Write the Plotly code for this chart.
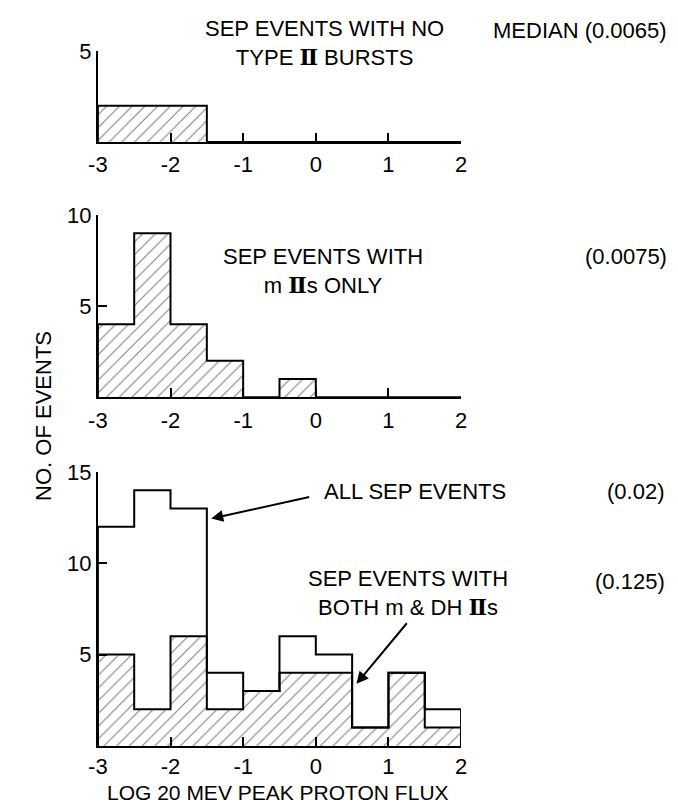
import plotly.graph_objects as go

# ---- data ----
bin_edges = [-3.0, -2.5, -2.0, -1.5, -1.0, -0.5, 0.0, 0.5, 1.0, 1.5, 2.0]
no_type2 = [2, 2, 2, 0, 0, 0, 0, 0, 0, 0]
m_only = [4, 9, 4, 2, 0, 1, 0, 0, 0, 0]
both_m_dh = [5, 2, 6, 2, 3, 4, 4, 1, 4, 1]
all_sep = [12, 14, 13, 4, 3, 6, 5, 1, 4, 2]
x_ticks = [-3, -2, -1, 0, 1, 2]
x_ticklabels = ["-3", "-2", "-1", "0", "1", "2"]
medians = ["MEDIAN (0.0065)", "(0.0075)", "(0.02)", "(0.125)"]

W, H = 678, 804
FONT = "Liberation Sans, Arial, sans-serif"
FS = 22


def py(p):
    return 1 - p / H


def px(p):
    return p / W


centers = [(bin_edges[i] + bin_edges[i + 1]) / 2 for i in range(len(bin_edges) - 1)]
width = bin_edges[1] - bin_edges[0]


def step_xy(counts):
    xs = [bin_edges[0]] + list(bin_edges)
    ys = [0] + list(counts) + [0]
    return xs, ys


fig = go.Figure()

panels = [
    ("x", "y", no_type2, None, 5, [5]),
    ("x2", "y2", m_only, None, 10, [5, 10]),
    ("x3", "y3", both_m_dh, all_sep, 15, [5, 10, 15]),
]

for xa, ya, hatched, outline, ymax, yt in panels:
    fig.add_trace(go.Bar(
        x=centers, y=hatched, width=width, xaxis=xa, yaxis=ya,
        marker=dict(color="white", line=dict(width=0),
                    pattern=dict(shape="/", fgcolor="black", bgcolor="white",
                                 size=9, solidity=0.12)),
        showlegend=False, hoverinfo="skip"))
    sx, sy = step_xy(hatched)
    fig.add_trace(go.Scatter(x=sx, y=sy, xaxis=xa, yaxis=ya, mode="lines",
                             line=dict(color="black", width=2, shape="hv"),
                             cliponaxis=False, showlegend=False, hoverinfo="skip"))
    if outline is not None:
        ox, oy = step_xy(outline)
        fig.add_trace(go.Scatter(x=ox, y=oy, xaxis=xa, yaxis=ya, mode="lines",
                                 line=dict(color="black", width=2, shape="hv"),
                                 cliponaxis=False, showlegend=False, hoverinfo="skip"))

x_dom = [px(90), px(462)]
y_doms = [[py(132), py(40)], [py(391), py(206)], [py(745), py(467)]]

layout = dict(
    width=W, height=H, margin=dict(l=0, r=0, t=0, b=0),
    plot_bgcolor="white", paper_bgcolor="white",
    font=dict(family=FONT, size=FS, color="black"),
    bargap=0,
)
names = [("xaxis", "yaxis", "y", "x"), ("xaxis2", "yaxis2", "y2", "x2"), ("xaxis3", "yaxis3", "y3", "x3")]
for i, ((xn, yn, yref, xref), (_, _, _, _, ymax, yt), yd) in enumerate(zip(names, panels, y_doms)):
    layout[xn] = dict(domain=x_dom, anchor=yref, range=[-3, 2], showgrid=False, zeroline=False,
                      showline=True, linecolor="black", linewidth=2,
                      ticks="inside", ticklen=9, tickwidth=2, tickcolor="black",
                      ticklabelstandoff=(0 if i == 2 else 2),
                      tickvals=x_ticks, ticktext=x_ticklabels, tickfont=dict(size=FS))
    layout[yn] = dict(domain=yd, anchor=xref, range=[0, ymax], showgrid=False, zeroline=False,
                      showline=True, linecolor="black", linewidth=2,
                      ticks="inside", ticklen=9, tickwidth=2, tickcolor="black",
                      tickvals=yt, ticktext=[str(v) for v in yt], tickfont=dict(size=FS))
fig.update_layout(**layout)

II = "<span style=\"font-family:'DejaVu Serif'\"><b>Ⅱ</b></span>"
ann = []


def text(x, y, s, xanchor="center", size=FS):
    ann.append(dict(x=px(x), y=py(y), xref="paper", yref="paper", text=s, showarrow=False,
                    xanchor=xanchor, yanchor="middle", align="center",
                    font=dict(family=FONT, size=size, color="black")))


text(322, 31, "SEP EVENTS WITH NO<br>TYPE " + II + " BURSTS")
text(675, 19, medians[0], "right")
text(321, 263, "SEP EVENTS WITH<br>m " + II + "s ONLY")
text(675, 248, medians[1], "right")
text(320, 487, "ALL SEP EVENTS", "left")
text(672, 487, medians[2], "right")
text(408, 590, "SEP EVENTS WITH<br>BOTH m &amp; DH " + II + "s")
text(673, 578, medians[3], "right")
text(274, 792, "LOG 20 MEV PEAK PROTON FLUX", size=21)
ann.append(dict(x=px(20), y=py(410), xref="paper", yref="paper", text="NO. OF EVENTS",
                showarrow=False, textangle=-90, font=dict(family=FONT, size=FS, color="black")))

# arrows (data coordinates of bottom panel)
ann.append(dict(x=-1.44, y=12.45, xref="x3", yref="y3", ax=-0.07, ay=13.65, axref="x3", ayref="y3",
                showarrow=True, arrowhead=2, arrowsize=1.2, arrowwidth=2, arrowcolor="black", text=""))
ann.append(dict(x=0.56, y=3.4, xref="x3", yref="y3", ax=1.27, ay=6.8, axref="x3", ayref="y3",
                showarrow=True, arrowhead=2, arrowsize=1.2, arrowwidth=2, arrowcolor="black", text=""))
fig.update_layout(annotations=ann)

fig.write_html("out.html", config={"displayModeBar": False},
               post_script="document.body.style.margin='0';")
